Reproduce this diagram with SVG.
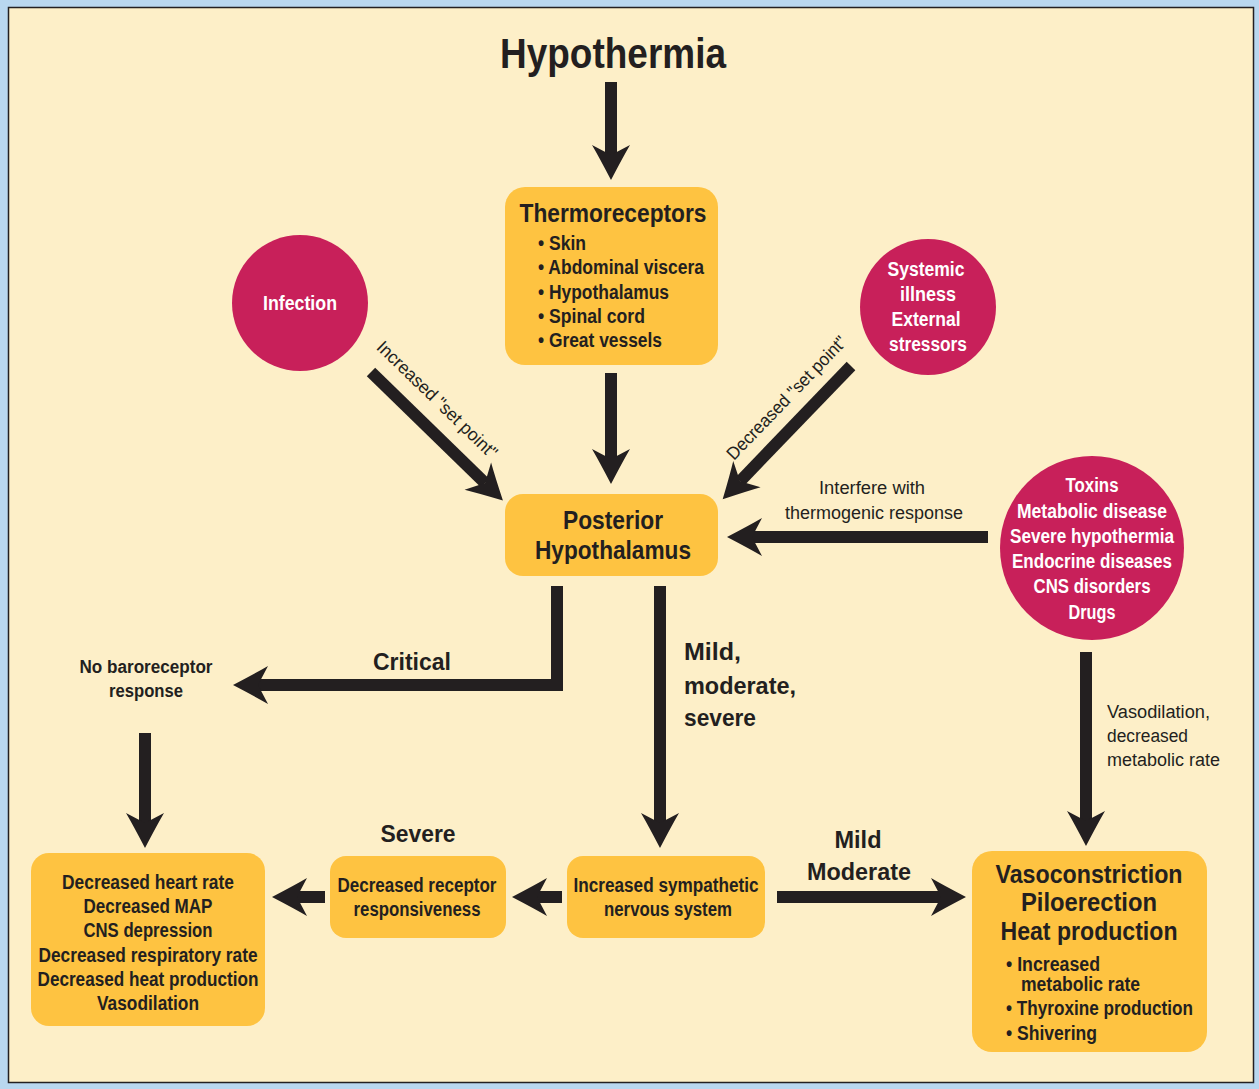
<svg xmlns="http://www.w3.org/2000/svg" width="1259" height="1089" viewBox="0 0 1259 1089">
<style>
text{font-family:"Liberation Sans Narrow","Liberation Sans",Arial,sans-serif;fill:#231f20}
.b{font-weight:bold}
.c{text-anchor:middle}
.w{fill:#ffffff}
.box{fill:#fec341}
.circ{fill:#c8205a}
.arr{fill:none;stroke:#231f20;stroke-width:12;marker-end:url(#ah)}
.s17{font-size:18px}
.s18{font-size:19.5px}
.s23{font-size:24px}
</style>
<defs>
<marker id="ah" markerUnits="userSpaceOnUse" markerWidth="40" markerHeight="44" refX="10" refY="0" orient="auto" overflow="visible" viewBox="0 -22 40 44">
<path d="M0,-19 Q12,-12 35,0 Q12,12 0,19 L10,0 Z" fill="#231f20"/>
</marker>
</defs>
<rect x="0" y="0" width="1259" height="1089" fill="#b9d7ef"/>
<rect x="8.5" y="7.5" width="1245" height="1075" fill="#fdefc8" stroke="#231f20" stroke-width="1.5"/>

<g id="title"><text class="b c" x="613" y="68" font-size="43" textLength="226" lengthAdjust="spacingAndGlyphs">Hypothermia</text></g>

<g id="connectors">
<path class="arr" d="M611,82 V155"/>
<path class="arr" d="M611,373 V459"/>
<path class="arr" d="M371,372 L485,483"/>
<path class="arr" d="M851,366 L740,481.3"/>
<path class="arr" d="M988,537 H752"/>
<path class="arr" d="M557,586 V685 H258"/>
<path class="arr" d="M145,733 V823"/>
<path class="arr" d="M660,586 V823"/>
<path class="arr" d="M1086,652 V821"/>
<path class="arr" d="M562,897 H537"/>
<path class="arr" d="M325,897 H297"/>
<path class="arr" d="M777,897 H941"/>
<text class="s17" transform="translate(433,404) rotate(44)" text-anchor="middle" textLength="160" lengthAdjust="spacingAndGlyphs">Increased "set point"</text>
<text class="s17" transform="translate(791,402) rotate(-46)" text-anchor="middle" textLength="164" lengthAdjust="spacingAndGlyphs">Decreased "set point"</text>
<text class="s17 c" x="872" y="494" textLength="106" lengthAdjust="spacingAndGlyphs">Interfere with</text>
<text class="s17 c" x="874" y="519" textLength="178" lengthAdjust="spacingAndGlyphs">thermogenic response</text>
<text class="b s23 c" x="412" y="670" textLength="78" lengthAdjust="spacingAndGlyphs">Critical</text>
<text class="b s23" x="684" y="660" textLength="57" lengthAdjust="spacingAndGlyphs">Mild,</text>
<text class="b s23" x="684" y="694" textLength="112" lengthAdjust="spacingAndGlyphs">moderate,</text>
<text class="b s23" x="684" y="726" textLength="72" lengthAdjust="spacingAndGlyphs">severe</text>
<text class="s17" x="1107" y="718" textLength="103" lengthAdjust="spacingAndGlyphs">Vasodilation,</text>
<text class="s17" x="1107" y="742" textLength="81" lengthAdjust="spacingAndGlyphs">decreased</text>
<text class="s17" x="1107" y="766" textLength="113" lengthAdjust="spacingAndGlyphs">metabolic rate</text>
<text class="b s23 c" x="418" y="842" textLength="75" lengthAdjust="spacingAndGlyphs">Severe</text>
<text class="b s23 c" x="858" y="848" textLength="47" lengthAdjust="spacingAndGlyphs">Mild</text>
<text class="b s23 c" x="859" y="880" textLength="104" lengthAdjust="spacingAndGlyphs">Moderate</text>
</g>

<g id="thermoreceptors">
<rect class="box" x="505" y="187" width="213" height="178" rx="20"/>
<text class="b c" x="613" y="222" font-size="26.5" textLength="187" lengthAdjust="spacingAndGlyphs">Thermoreceptors</text>
<text class="b s18" x="538" y="250" textLength="48" lengthAdjust="spacingAndGlyphs">• Skin</text>
<text class="b s18" x="538" y="274" textLength="166" lengthAdjust="spacingAndGlyphs">• Abdominal viscera</text>
<text class="b s18" x="538" y="299" textLength="131" lengthAdjust="spacingAndGlyphs">• Hypothalamus</text>
<text class="b s18" x="538" y="323" textLength="107" lengthAdjust="spacingAndGlyphs">• Spinal cord</text>
<text class="b s18" x="538" y="347" textLength="124" lengthAdjust="spacingAndGlyphs">• Great vessels</text>
</g>

<g id="infection">
<circle class="circ" cx="300" cy="303" r="68"/>
<text class="b s18 c w" x="300" y="310" textLength="74" lengthAdjust="spacingAndGlyphs">Infection</text>
</g>

<g id="systemic">
<circle class="circ" cx="928" cy="307" r="68"/>
<text class="b s18 c w" x="926" y="276" textLength="77" lengthAdjust="spacingAndGlyphs">Systemic</text>
<text class="b s18 c w" x="928" y="301" textLength="56" lengthAdjust="spacingAndGlyphs">illness</text>
<text class="b s18 c w" x="926" y="326" textLength="69" lengthAdjust="spacingAndGlyphs">External</text>
<text class="b s18 c w" x="928" y="351" textLength="78" lengthAdjust="spacingAndGlyphs">stressors</text>
</g>

<g id="posterior">
<rect class="box" x="505" y="494" width="213" height="82" rx="18"/>
<text class="b c" x="613" y="529" font-size="26" textLength="100" lengthAdjust="spacingAndGlyphs">Posterior</text>
<text class="b c" x="613" y="559" font-size="26" textLength="156" lengthAdjust="spacingAndGlyphs">Hypothalamus</text>
</g>

<g id="toxins">
<circle class="circ" cx="1092" cy="548" r="92"/>
<text class="b s18 c w" x="1092" y="492" textLength="53" lengthAdjust="spacingAndGlyphs">Toxins</text>
<text class="b s18 c w" x="1092" y="518" textLength="150" lengthAdjust="spacingAndGlyphs">Metabolic disease</text>
<text class="b s18 c w" x="1092" y="543" textLength="164" lengthAdjust="spacingAndGlyphs">Severe hypothermia</text>
<text class="b s18 c w" x="1092" y="568" textLength="160" lengthAdjust="spacingAndGlyphs">Endocrine diseases</text>
<text class="b s18 c w" x="1092" y="593" textLength="117" lengthAdjust="spacingAndGlyphs">CNS disorders</text>
<text class="b s18 c w" x="1092" y="619" textLength="47" lengthAdjust="spacingAndGlyphs">Drugs</text>
</g>

<g id="nobaro">
<text class="b s17 c" x="146" y="673" textLength="133" lengthAdjust="spacingAndGlyphs">No baroreceptor</text>
<text class="b s17 c" x="146" y="697" textLength="74" lengthAdjust="spacingAndGlyphs">response</text>
</g>

<g id="effects">
<rect class="box" x="31" y="853" width="234" height="173" rx="18"/>
<text class="b s18 c" x="148" y="889" textLength="172" lengthAdjust="spacingAndGlyphs">Decreased heart rate</text>
<text class="b s18 c" x="148" y="913" textLength="129" lengthAdjust="spacingAndGlyphs">Decreased MAP</text>
<text class="b s18 c" x="148" y="937" textLength="129" lengthAdjust="spacingAndGlyphs">CNS depression</text>
<text class="b s18 c" x="148" y="962" textLength="219" lengthAdjust="spacingAndGlyphs">Decreased respiratory rate</text>
<text class="b s18 c" x="148" y="986" textLength="221" lengthAdjust="spacingAndGlyphs">Decreased heat production</text>
<text class="b s18 c" x="148" y="1010" textLength="102" lengthAdjust="spacingAndGlyphs">Vasodilation</text>
</g>

<g id="receptor">
<rect class="box" x="330" y="856" width="176" height="82" rx="16"/>
<text class="b s18 c" x="417" y="892" textLength="159" lengthAdjust="spacingAndGlyphs">Decreased receptor</text>
<text class="b s18 c" x="417" y="916" textLength="127" lengthAdjust="spacingAndGlyphs">responsiveness</text>
</g>

<g id="sympathetic">
<rect class="box" x="567" y="856" width="198" height="82" rx="16"/>
<text class="b s18 c" x="666" y="892" textLength="185" lengthAdjust="spacingAndGlyphs">Increased sympathetic</text>
<text class="b s18 c" x="668" y="916" textLength="128" lengthAdjust="spacingAndGlyphs">nervous system</text>
</g>

<g id="vaso">
<rect class="box" x="972" y="851" width="235" height="201" rx="20"/>
<text class="b c" x="1089" y="883" font-size="26" textLength="187" lengthAdjust="spacingAndGlyphs">Vasoconstriction</text>
<text class="b c" x="1089" y="911" font-size="26" textLength="136" lengthAdjust="spacingAndGlyphs">Piloerection</text>
<text class="b c" x="1089" y="940" font-size="26" textLength="177" lengthAdjust="spacingAndGlyphs">Heat production</text>
<text class="b s18" x="1006" y="971" textLength="94" lengthAdjust="spacingAndGlyphs">• Increased</text>
<text class="b s18" x="1021" y="991" textLength="119" lengthAdjust="spacingAndGlyphs">metabolic rate</text>
<text class="b s18" x="1006" y="1015" textLength="187" lengthAdjust="spacingAndGlyphs">• Thyroxine production</text>
<text class="b s18" x="1006" y="1040" textLength="91" lengthAdjust="spacingAndGlyphs">• Shivering</text>
</g>
</svg>
